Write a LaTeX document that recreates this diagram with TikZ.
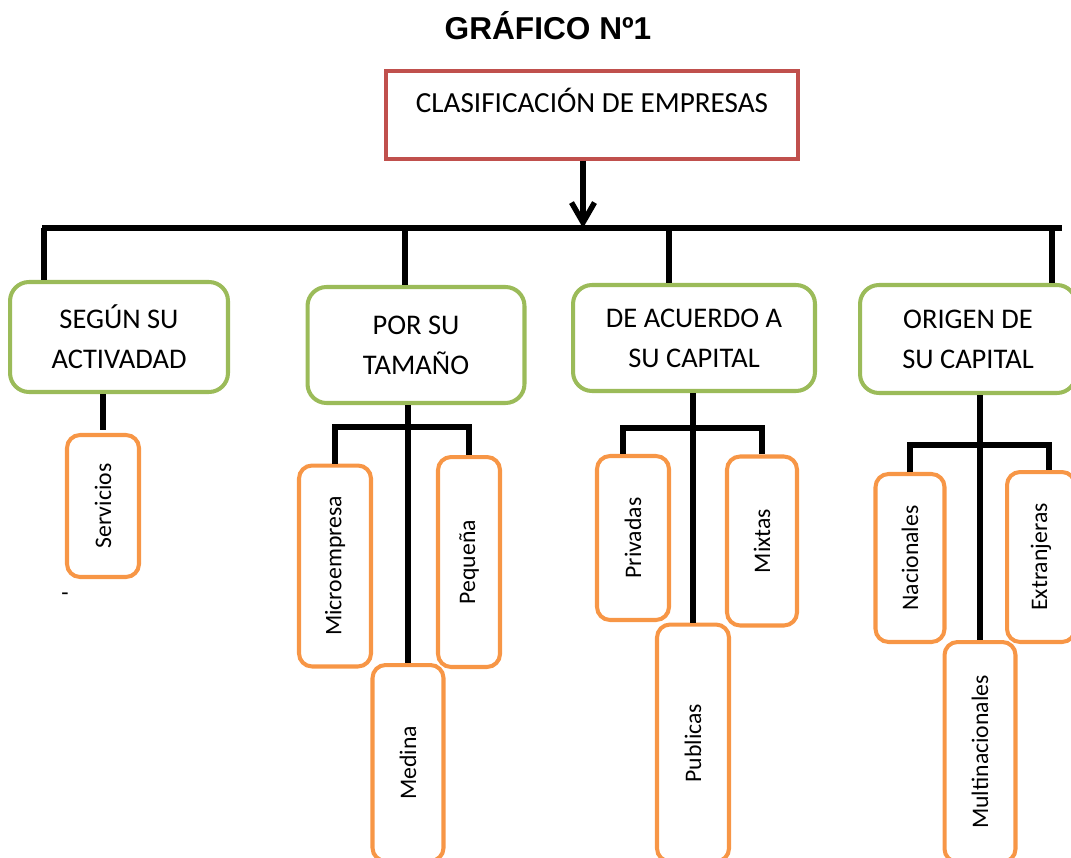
\documentclass[tikz,border=0pt]{standalone}
\usepackage{fontspec}
\setmainfont{Carlito}
\newfontfamily\titlefont{Liberation Sans}
\usetikzlibrary{arrows.meta}
\definecolor{boxred}{HTML}{C0504D}
\definecolor{boxgreen}{HTML}{9BBB59}
\definecolor{boxorange}{HTML}{F79646}
\begin{document}
\begin{tikzpicture}[x=0.02cm, y=-0.02cm,
          rootbox/.style={draw=boxred, line width=2pt, minimum width=8.24cm, minimum height=1.76cm,
            inner sep=0pt, text height=0.37cm, text depth=0.46cm, font=\fontsize{16.6}{18}\selectfont},
          catbox/.style={draw=boxgreen, line width=2.3pt, rounded corners=0.38cm, inner sep=0pt,
            align=center, font=\fontsize{16.2}{22.8}\selectfont},
          subbox/.style={draw=boxorange, line width=2.3pt, rounded corners=0.26cm, inner sep=0pt,
            rotate=90, font=\fontsize{13.5}{16}\selectfont},
          link/.style={line width=3.1pt},
          mainbar/.style={line width=3.9pt}]
        \useasboundingbox (0,0) rectangle (1071,858);
        \node[anchor=base, font=\titlefont\bfseries\fontsize{18}{20}\selectfont] (title) at (548,40) {GRÁFICO Nº1};
        \node[rootbox] (root) at (592,115) {CLASIFICACIÓN DE EMPRESAS};
        % The four categories hang from one long bar; their drops are not centred on the boxes.
        \node[catbox, minimum width=4.36cm, minimum height=2.2cm] (act) at (119,337) {SEGÚN SU\\ACTIVADAD};
        \node[catbox, minimum width=4.34cm, minimum height=2.32cm] (tam) at (416,345) {POR SU\\TAMAÑO};
        \node[catbox, minimum width=4.84cm, minimum height=2.12cm] (cap) at (694,338) {DE ACUERDO A\\SU CAPITAL};
        \node[catbox, minimum width=4.32cm, minimum height=2.16cm] (ori) at (968,339) {ORIGEN DE\\SU CAPITAL};
        % Rotated boxes: minimum width is the vertical length, minimum height the horizontal one.
        \node[subbox, minimum width=2.84cm, minimum height=1.44cm] (ser) at (103,506) {Servicios};
        \node[subbox, minimum width=4.02cm, minimum height=1.44cm] (mic) at (335,566) {Microempresa};
        \node[subbox, minimum width=4.2cm, minimum height=1.24cm] (peq) at (469,562) {Pequeña};
        \node[subbox, minimum width=3.92cm, minimum height=1.42cm] (med) at (408,763) {Medina};
        \node[subbox, minimum width=3.28cm, minimum height=1.44cm] (pri) at (633,538) {Privadas};
        \node[subbox, minimum width=3.38cm, minimum height=1.4cm] (mix) at (762,541) {Mixtas};
        \node[subbox, minimum width=4.74cm, minimum height=1.44cm] (pub) at (693,743) {Publicas};
        \node[subbox, minimum width=3.36cm, minimum height=1.38cm] (nac) at (910,558) {Nacionales};
        \node[subbox, minimum width=3.4cm, minimum height=1.36cm] (ext) at (1041,557) {Extranjeras};
        \node[subbox, minimum width=4.4cm, minimum height=1.42cm] (mul) at (980,752) {Multinacionales};
        \node[font=\fontsize{13.5}{16}\selectfont] (dash) at (65,597) {-};
        \coordinate (barL) at (42,228);
        \coordinate (barR) at (1062,228);
        \coordinate (d1) at (44,228);
        \coordinate (d2) at (405,228);
        \coordinate (d3) at (669,228);
        \coordinate (d4) at (1052,228);
        \coordinate (t2) at (404,427);
        \coordinate (t3) at (691,428);
        \coordinate (t4) at (981,445);
        \draw[mainbar] (barL) -- (barR);
        \draw[link, -{Straight Barb[length=4mm, width=4.6mm]}] ([xshift=-0.18cm]root.south) -- ([xshift=-0.18cm]root.south |- barL);
        \draw[link] (d1) -- (d1 |- act.north);
        \draw[link] (d2) -- (d2 |- tam.north);
        \draw[link] (d3) -- (d3 |- cap.north);
        \draw[link] (d4) -- (d4 |- ori.north);
        \draw[link] (ser |- act.south) -- ++(0,36);
        \draw[link] (med |- tam.south) -- (med.east);
        \draw[link] (mic.east) -- (mic.east |- t2) -| (peq.east);
        \draw[link] (pub |- cap.south) -- (pub.east);
        \draw[link] ([xshift=-0.2cm]pri.east) -- ([xshift=-0.2cm]pri.east |- t3) -| (mix.east);
        \draw[link] (mul |- ori.south) -- (mul.east);
        \draw[link] (nac.east) -- (nac.east |- t4) -| ([xshift=0.16cm]ext.east);
      \end{tikzpicture}
\end{document}
